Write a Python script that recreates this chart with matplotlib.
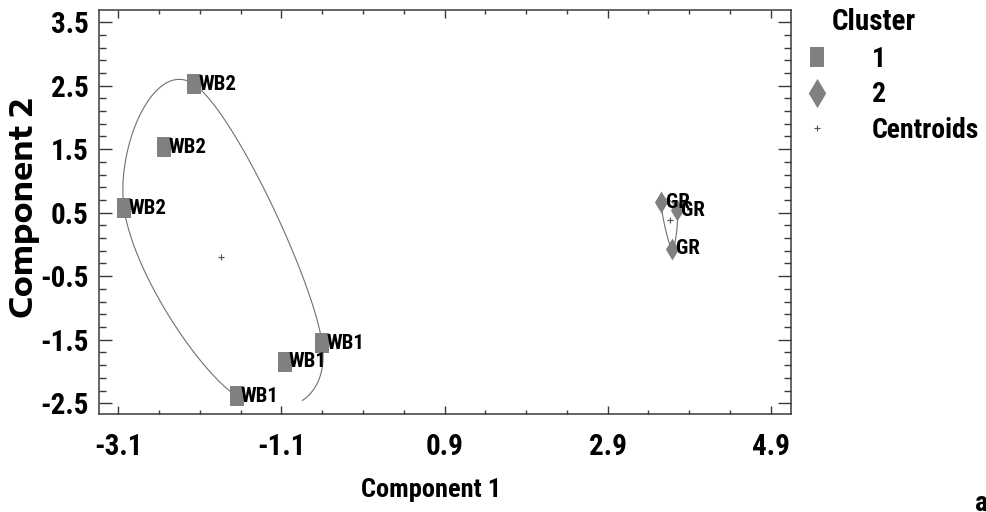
"""Cluster scatter plot: two k-means groups on the first two components."""

import matplotlib

matplotlib.use("Agg")
import matplotlib.pyplot as plt
import numpy as np
from matplotlib.lines import Line2D
from matplotlib.ticker import FixedFormatter, FixedLocator

# cluster 1 (squares)
C1_X = [-2.17, -2.54, -3.03, -0.60, -1.06, -1.65]
C1_Y = [2.52, 1.53, 0.57, -1.56, -1.85, -2.39]
C1_LABELS = ["WB2", "WB2", "WB2", "WB1", "WB1", "WB1"]

# cluster 2 (diamonds)
C2_X = [3.56, 3.75, 3.69]
C2_Y = [0.66, 0.54, -0.07]
C2_LABELS = ["GR", "GR", "GR"]

X_TICKS = [-3.1, -1.1, 0.9, 2.9, 4.9]
X_TICK_LABELS = ["-3.1", "-1.1", "0.9", "2.9", "4.9"]
Y_TICKS = [-2.5, -1.5, -0.5, 0.5, 1.5, 2.5, 3.5]
Y_TICK_LABELS = ["-2.5", "-1.5", "-0.5", "0.5", "1.5", "2.5", "3.5"]
LEGEND_LABELS = ["1", "2", "Centroids"]

NARROW = ["Roboto Condensed", "Liberation Sans", "DejaVu Sans"]
WIDE = ["Encode Sans Expanded", "DejaVu Sans"]
GRAY = "#808080"
AXIS_COLOR = "#3a3a3a"

RECT = [(-0.74, -1), (0.74, -1), (0.74, 1), (-0.74, 1), (-0.74, -1)]
DIAMOND = [(0, -1), (0.6, 0), (0, 1), (-0.6, 0), (0, -1)]


def convex_hull(xs, ys):
    """Counter-clockwise hull, starting from the lowest point."""
    pts = sorted(set(zip(xs, ys)))

    def cross(o, a, b):
        return (a[0] - o[0]) * (b[1] - o[1]) - (a[1] - o[1]) * (b[0] - o[0])

    lower, upper = [], []
    for p in pts:
        while len(lower) >= 2 and cross(lower[-2], lower[-1], p) <= 0:
            lower.pop()
        lower.append(p)
    for p in reversed(pts):
        while len(upper) >= 2 and cross(upper[-2], upper[-1], p) <= 0:
            upper.pop()
        upper.append(p)
    hull = lower[:-1] + upper[:-1]
    start = min(range(len(hull)), key=lambda i: hull[i][1])
    return np.array(hull[start:] + hull[:start])


def smooth_outline(hull, tension=0.6, gap=0.0, n=80):
    """Cardinal spline through hull vertices; first segment may be left open."""
    k = len(hull)
    parts = []
    for i in range(k):
        p0, p1 = hull[i], hull[(i + 1) % k]
        m0 = tension * (p1 - hull[i - 1])
        m1 = tension * (hull[(i + 2) % k] - p0)
        t = np.linspace(gap if i == 0 else 0.0, 1.0, n)[:, None]
        h00 = 2 * t**3 - 3 * t**2 + 1
        h10 = t**3 - 2 * t**2 + t
        h01 = -2 * t**3 + 3 * t**2
        h11 = t**3 - t**2
        parts.append(h00 * p0 + h10 * m0 + h01 * p1 + h11 * m1)
    return np.vstack(parts)


fig = plt.figure(figsize=(9.87, 5.12), dpi=100)
ax = fig.add_axes([0.0998, 0.1914, 0.7013, 0.789])

clusters = [
    (C1_X, C1_Y, C1_LABELS, RECT, 13.7, 0.55),
    (C2_X, C2_Y, C2_LABELS, DIAMOND, 15.8, 0.0),
]

for xs, ys, labels, marker, size, gap in clusters:
    outline = smooth_outline(convex_hull(xs, ys), gap=gap)
    ax.plot(outline[:, 0], outline[:, 1], color="#707070", lw=0.8, zorder=1)
    ax.plot(xs, ys, ls="none", marker=marker, ms=size, color=GRAY, mew=0, zorder=2)
    ax.plot(np.mean(xs), np.mean(ys), ls="none", marker="+", ms=5,
            color="#505050", mew=0.8, zorder=2)

for xs, ys, labels, marker, size, gap in clusters:
    for x, y, lab in zip(xs, ys, labels):
        ax.annotate(lab, (x, y), xytext=(3, 0), textcoords="offset points",
                    ha="left", va="center", fontsize=15, fontweight="bold",
                    family=NARROW, zorder=3)

ax.set_xlim(-3.343, 5.145)
ax.set_ylim(-2.67, 3.69)
ax.xaxis.set_major_locator(FixedLocator(X_TICKS))
ax.xaxis.set_major_formatter(FixedFormatter(X_TICK_LABELS))
ax.xaxis.set_minor_locator(FixedLocator(np.arange(-3.1, 5.0, 0.5)))
ax.yaxis.set_major_locator(FixedLocator(Y_TICKS))
ax.yaxis.set_major_formatter(FixedFormatter(Y_TICK_LABELS))
ax.yaxis.set_minor_locator(FixedLocator(np.arange(-2.5, 3.6, 0.2)))

ax.tick_params(which="both", direction="in", top=True, right=True,
               color=AXIS_COLOR, width=1.0)
ax.tick_params(axis="x", which="major", length=6, pad=14)
ax.tick_params(axis="x", which="minor", length=3)
ax.tick_params(axis="y", which="major", length=9.5, pad=7)
ax.tick_params(axis="y", which="minor", length=5)
for lab in ax.get_xticklabels() + ax.get_yticklabels():
    lab.set_fontfamily(NARROW)
    lab.set_fontweight("bold")
    lab.set_fontsize(21)
for spine in ax.spines.values():
    spine.set_color(AXIS_COLOR)
    spine.set_linewidth(1.1)

ax.set_xlabel("Component 1", fontsize=19, fontweight="bold", family=NARROW,
              va="center")
ax.xaxis.set_label_coords(0.48, -0.188)
ax.set_ylabel("Component 2", fontsize=22, fontweight="bold", family=WIDE,
              va="center")
ax.yaxis.set_label_coords(-0.108, 0.51)

handles = [
    Line2D([], [], ls="none", marker=RECT, ms=14.4, color=GRAY, mew=0),
    Line2D([], [], ls="none", marker=DIAMOND, ms=21, color=GRAY, mew=0),
    Line2D([], [], ls="none", marker="+", ms=5, color="#505050", mew=0.8),
]
ax.legend(handles, LEGEND_LABELS, loc="upper left",
          bbox_to_anchor=(803 / 987, 1 - 46 / 512), bbox_transform=fig.transFigure,
          frameon=False, borderpad=0, borderaxespad=0, handlelength=1.0,
          handletextpad=1.47, labelspacing=0.3,
          prop={"family": NARROW, "weight": "bold", "size": 20})
fig.text(832 / 987, 1 - 22.5 / 512, "Cluster", ha="left", va="center",
         fontsize=21, fontweight="bold", family=NARROW)
fig.text(975 / 987, 1 - 490 / 512, "a", ha="left", va="top",
         fontsize=20, fontweight="bold", family=NARROW)

fig.savefig("out.png", dpi=100)
